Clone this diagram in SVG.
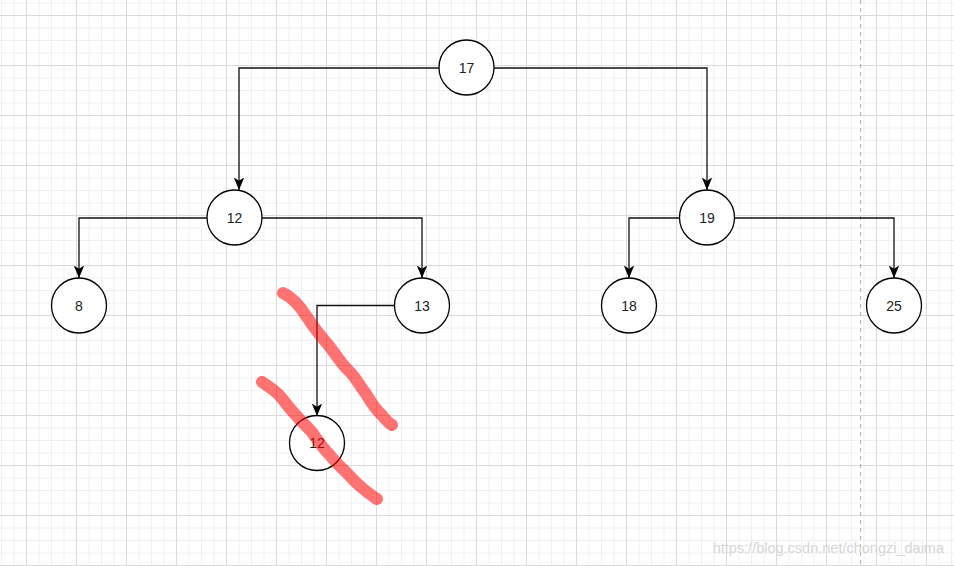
<svg xmlns="http://www.w3.org/2000/svg" width="954" height="566" viewBox="0 0 954 566">
<defs>
<pattern id="grid" patternUnits="userSpaceOnUse" x="26" y="15" width="50" height="50">
<path d="M13,0 V50 M25.5,0 V50 M38,0 V50 M0,13 H50 M0,25.5 H50 M0,38 H50" stroke="#f0f0f0" stroke-width="1" fill="none"/>
<path d="M0.5,0 V50 M0,0.5 H50" stroke="#dadada" stroke-width="1" fill="none"/>
</pattern>
<marker id="arr" viewBox="0 0 12 10" refX="12" refY="5" markerWidth="12.5" markerHeight="10.5" markerUnits="userSpaceOnUse" orient="auto">
<path d="M0,0 L12,5 L0,10 L3,5 Z" fill="#000"/>
</marker>
<style>
.node circle{fill:#fff;stroke:#000;stroke-width:1.3}
.node text{font-family:"Liberation Sans",Arial,sans-serif;font-size:14px;fill:#222;text-anchor:middle}
.edge{fill:none;stroke:#111;stroke-width:1.3;marker-end:url(#arr)}
.scribble{fill:none;stroke:#ff0000;stroke-opacity:0.55;stroke-width:12;stroke-linecap:round;stroke-linejoin:round}
</style>
</defs>
<rect width="954" height="566" fill="#fff"/>
<rect width="954" height="566" fill="url(#grid)"/>
<line x1="860.5" y1="0" x2="860.5" y2="566" stroke="#b0b0b0" stroke-width="1" stroke-dasharray="4,4"/>
<g id="connectors">
<path class="edge" d="M439,68 H239 V190"/>
<path class="edge" d="M494,68 H707 V190"/>
<path class="edge" d="M207,218 H79 V278"/>
<path class="edge" d="M262,218 H422 V278"/>
<path class="edge" d="M395,305.5 H317 V416"/>
<path class="edge" d="M680,218 H629 V278"/>
<path class="edge" d="M735,218 H894 V278"/>
</g>
<g id="n17" class="node"><circle cx="466.5" cy="67.5" r="27.5"/><text x="466.5" y="72.5">17</text></g>
<g id="n12" class="node"><circle cx="234.5" cy="217.5" r="27.5"/><text x="234.5" y="222.5">12</text></g>
<g id="n8" class="node"><circle cx="79" cy="305.5" r="27.5"/><text x="79" y="310.5">8</text></g>
<g id="n13" class="node"><circle cx="422" cy="305.5" r="27.5"/><text x="422" y="310.5">13</text></g>
<g id="n12b" class="node"><circle cx="317" cy="443" r="27.5"/><text x="317" y="448">12</text></g>
<g id="n19" class="node"><circle cx="707" cy="217.5" r="27.5"/><text x="707" y="222.5">19</text></g>
<g id="n18" class="node"><circle cx="629" cy="305.5" r="27.5"/><text x="629" y="310.5">18</text></g>
<g id="n25" class="node"><circle cx="894" cy="305.5" r="27.5"/><text x="894" y="310.5">25</text></g>
<path class="scribble" d="M283,293 C292,297 300,306 307,317 C315,330 322,337 330,347 C338,358 343,366 350,372 C356,378 359,385 364,391 C369,398 372,405 378,411 C384,417 387,422 392,425"/>
<path class="scribble" d="M262,382 C268,386 273,389 278,394 C284,400 288,407 294,413 C300,420 305,425 311,431 C318,440 322,447 328,453 C334,460 338,465 344,470 C350,476 355,482 361,487 C367,492 372,496 377,499"/>
<text x="944" y="553" text-anchor="end" font-family="Liberation Sans,Arial,sans-serif" font-size="14.5" fill="#d6d6d6">https://blog.csdn.net/chongzi_daima</text>
</svg>
